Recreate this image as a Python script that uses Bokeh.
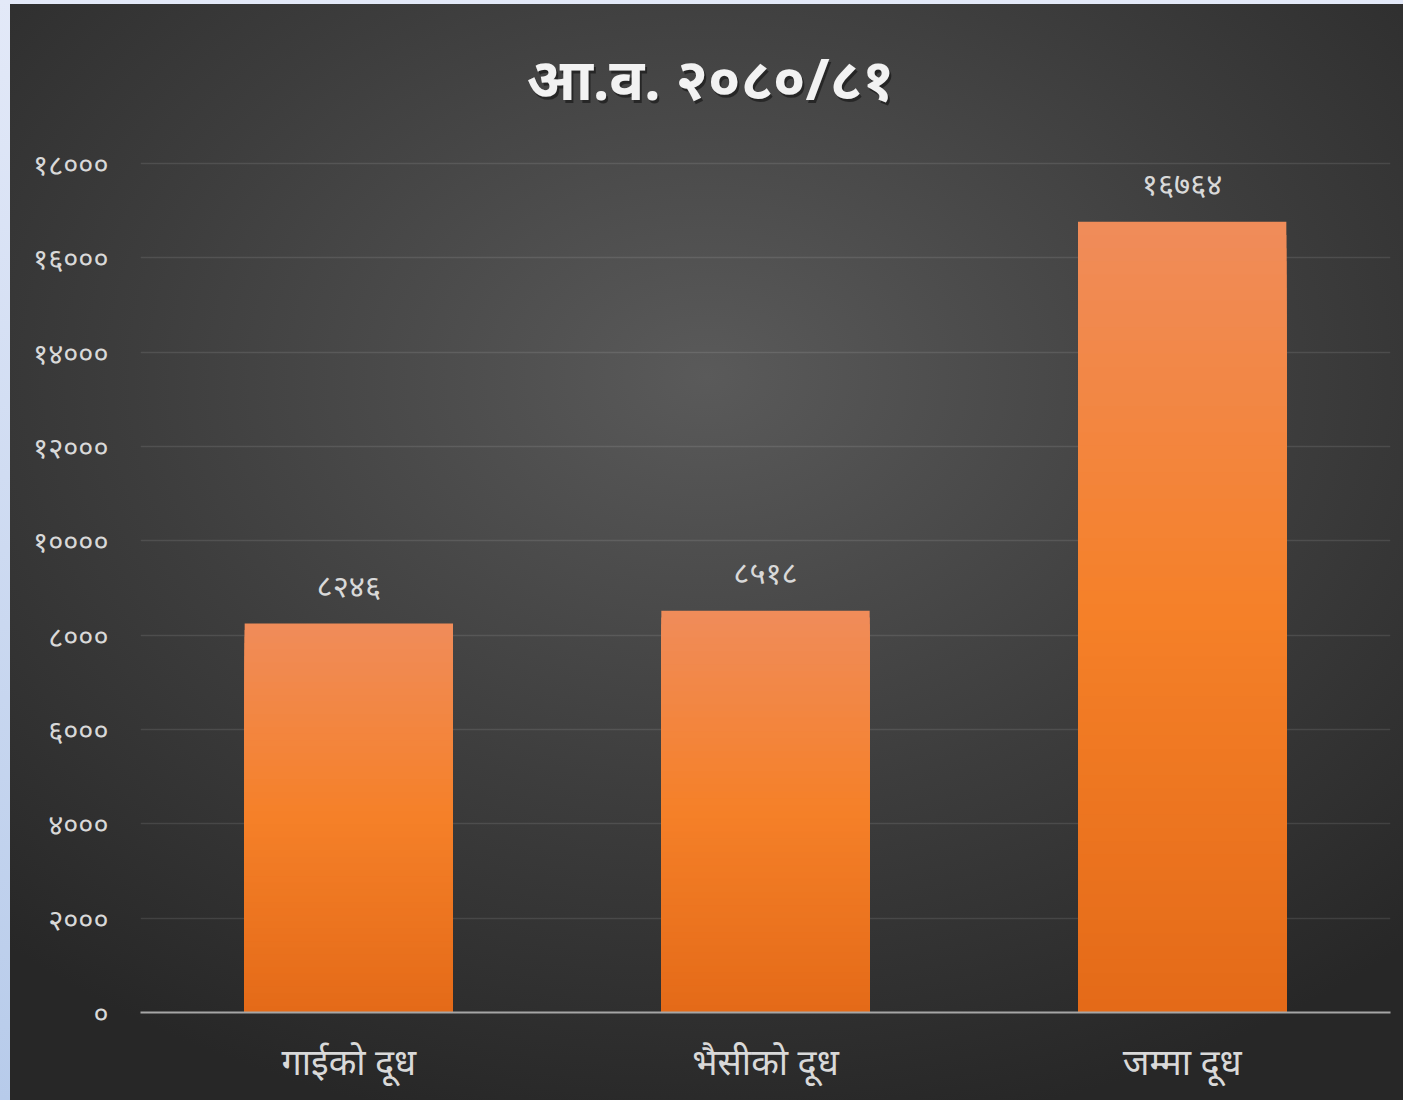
from bokeh.plotting import figure
from bokeh.models import Label, FixedTicker, ColumnDataSource
from bokeh.embed import file_html
from bokeh.resources import INLINE
from bokeh.core.properties import value

title_text = "आ.व. २०८०/८१"
categories = ["गाईको दूध", "भैसीको दूध", "जम्मा दूध"]
values = [8246, 8518, 16764]
value_labels = ["८२४६", "८५१८", "१६७६४"]
y_ticks = [0, 2000, 4000, 6000, 8000, 10000, 12000, 14000, 16000, 18000]
y_tick_labels = ["०", "२०००", "४०००", "६०००", "८०००", "१००००", "१२०००", "१४०००", "१६०००", "१८०००"]

FONT = "Noto Sans"

W, H = 1403, 1100
FRAME_L, FRAME_R, FRAME_T, FRAME_B = 140, 1390, 4, 1012
TOP_TICK_PX = 163  # pixel row of the top gridline
y_end = y_ticks[-1] * (FRAME_B - FRAME_T) / (FRAME_B - TOP_TICK_PX)

p = figure(x_range=categories, y_range=(0, y_end), width=W, height=H,
           output_backend="svg", toolbar_location=None,
           min_border_left=FRAME_L, min_border_right=W - FRAME_R,
           min_border_top=FRAME_T, min_border_bottom=H - FRAME_B,
           styles={
               "background-color": "#c8d6ef",
               "background-image": "radial-gradient(ellipse 75% 70% at 50% 34%, #5a5a5a 0%, #3d3d3d 55%, #272727 100%), linear-gradient(180deg, #e3e9f8 0%, #b7cbea 100%)",
               "background-size": "1393px 1096px, 100% 100%",
               "background-position": "10px 4px, 0 0",
               "background-repeat": "no-repeat",
           })
p.background_fill_alpha = 0
p.border_fill_alpha = 0
p.outline_line_color = None

# bars with vertical gradient: draw nested bars from tallest (top colour) to shortest (bottom colour)
N = 60
top_c = (240, 140, 90)
mid_c = (245, 128, 40)
bot_c = (228, 106, 24)
def lerp(a, b, t):
    return tuple(int(round(a[i] + (b[i] - a[i]) * t)) for i in range(3))
xs, tops, cols = [], [], []
for i in range(N - 1, -1, -1):
    f = (i + 0.5) / N
    if f < 0.5:
        c = lerp(bot_c, mid_c, f / 0.5)
    else:
        c = lerp(mid_c, top_c, (f - 0.5) / 0.5)
    for cat, v in zip(categories, values):
        xs.append(cat)
        tops.append(v * (i + 1) / N)
        cols.append("#%02x%02x%02x" % c)
src = ColumnDataSource(dict(x=xs, top=tops, color=cols))
p.vbar(x="x", bottom=0, top="top", width=0.5, fill_color="color", line_color=None, source=src)

# value labels
lsrc = ColumnDataSource(dict(x=categories, y=values, t=value_labels))
p.text(x="x", y="y", text="t", source=lsrc, text_align="center", text_baseline="middle",
       y_offset=-39, text_color="#d9d9d9", text_font=value(FONT), text_font_size="31px")

# axes
p.yaxis.ticker = FixedTicker(ticks=y_ticks)
p.yaxis.major_label_overrides = {t: l for t, l in zip(y_ticks, y_tick_labels)}
p.yaxis.axis_line_color = None
p.yaxis.major_tick_line_color = None
p.yaxis.minor_tick_line_color = None
p.yaxis.major_label_standoff = 26
p.yaxis.major_label_text_color = "#d9d9d9"
p.yaxis.major_label_text_font = FONT
p.yaxis.major_label_text_font_size = "29px"

p.xaxis.axis_line_color = "#a6a6a6"
p.xaxis.axis_line_width = 2
p.xaxis.major_tick_line_color = None
p.xaxis.minor_tick_line_color = None
p.xaxis.major_label_standoff = 18
p.xaxis.major_label_text_color = "#d9d9d9"
p.xaxis.major_label_text_font = FONT
p.xaxis.major_label_text_font_size = "36px"

p.xgrid.grid_line_color = None
p.ygrid.grid_line_color = "#ffffff"
p.ygrid.grid_line_alpha = 0.1
p.ygrid.grid_line_width = 1.5

# title with shadow (screen units relative to the frame's bottom-left corner)
TX = 710 - FRAME_L
TY = FRAME_B - 77
shadow = Label(x=TX + 2, y=TY - 3, x_units="screen", y_units="screen", text=title_text,
               text_align="center", text_baseline="middle", text_color="#000000", text_alpha=0.45,
               text_font=FONT, text_font_size="58px", text_font_style="bold")
title = Label(x=TX, y=TY, x_units="screen", y_units="screen", text=title_text,
              text_align="center", text_baseline="middle", text_color="#f2f2f2",
              text_font=FONT, text_font_size="58px", text_font_style="bold")
p.add_layout(shadow)
p.add_layout(title)

open("out.html", "w").write(file_html(p, INLINE))
